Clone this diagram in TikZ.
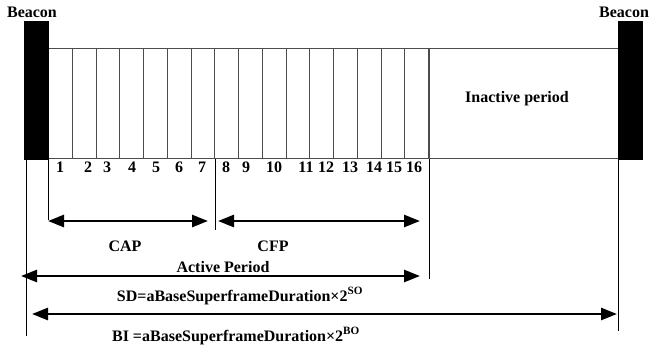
\documentclass[tikz,border=0pt]{standalone}
\usepackage{fontspec}
\setmainfont{Liberation Serif}
\usetikzlibrary{positioning, calc, arrows.meta}

\begin{document}
\begin{tikzpicture}[x=1pt, y=-1pt,
    lbl/.style={font=\fontsize{16}{19}\selectfont\bfseries, inner sep=0pt},
    beacon/.style={draw, fill=black, minimum width=24pt, minimum height=138pt, inner sep=0pt, anchor=north west},
    slot/.style={draw=black!70, line width=1pt, minimum width=23.75pt, minimum height=110pt, inner sep=0pt, anchor=south west},
    tick/.style={line width=0.8pt},
    span/.style={line width=2.6pt, {Triangle[length=16pt,width=12pt]}-{Triangle[length=16pt,width=12pt]}}]
    \useasboundingbox (0,0) rectangle (650,349);

    % superframe slots
    \foreach \i in {1,...,16}
        \node[slot] (slot\i) at ({48+23.75*(\i-1)},159) {};
    \node[slot, minimum width=190pt] (inactive) at (slot16.south east) {};
    \node[lbl] (inacttxt) at (517,99) {Inactive period};

    % beacons
    \node[beacon] (beaconL) at (24,21) {};
    \node[beacon] (beaconR) at (618,21) {};
    \node[lbl] (beaconLtxt) at (32,12) {Beacon};
    \node[lbl] (beaconRtxt) at (624,12) {Beacon};

    % slot numbers
    \foreach \n/\x in {1/60, 2/88, 3/107, 4/132, 5/156, 6/179, 7/202, 8/226,
                       9/246, 10/274, 11/306, 12/326, 13/350, 14/374, 15/394, 16/414}
        \node[lbl] (num\n) at (\x,167) {\n};

    % ticks
    \draw[tick] ([xshift=2.5pt]beaconL.south west) -- ++(0,177);
    \draw[tick] (slot1.south west) -- ++(0,61);
    \draw[tick] (slot7.south east) -- ++(0,71);
    \draw[tick] (slot16.south east) -- ++(0,120);
    \draw[tick] (beaconR.south west) -- ++(0,172);

    % spans
    \coordinate (capL) at (48,221);
    \coordinate (capR) at (208,221);
    \coordinate (cfpL) at (218,221);
    \coordinate (cfpR) at (420,221);
    \coordinate (actL) at (21,276);
    \coordinate (actR) at (420,276);
    \coordinate (biL) at (32,314);
    \coordinate (biR) at (617,314);
    \draw[span] (capL) -- (capR);
    \draw[span] (cfpL) -- (cfpR);
    \draw[span] (actL) -- (actR);
    \draw[span] (biL) -- (biR);

    \node[lbl] (cap) at (125,246) {CAP};
    \node[lbl] (cfp) at (273,246) {CFP};
    \node[lbl] (active) at (223,267) {Active Period};
    \node[lbl] (sd) at (240,296) {SD=aBaseSuperframeDuration×2\textsuperscript{SO}};
    \node[lbl] (bi) at (236,336) {BI\ =aBaseSuperframeDuration×2\textsuperscript{BO}};

\end{tikzpicture}
\end{document}
